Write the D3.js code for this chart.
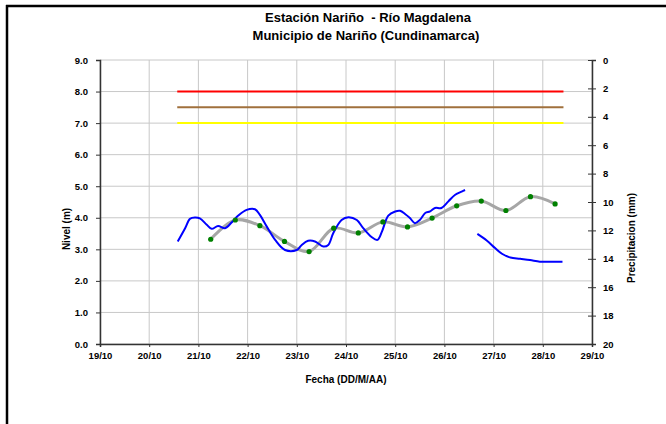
<!DOCTYPE html>
<html><head><meta charset="utf-8">
<script src="https://cdn.jsdelivr.net/npm/d3@7"></script>
<style>body{margin:0;background:#fff;} text{font-family:Arial,"Liberation Sans",sans-serif;font-weight:bold;white-space:pre;}</style>
</head><body><svg id="c" width="666" height="424"></svg>
<script>
const titleLines = ["Estación Nariño  - Río Magdalena", "Municipio de Nariño (Cundinamarca)"];
const xLabel = "Fecha (DD/M/AA)";
const yLabel = "Nivel (m)";
const y2Label = "Precipitacion (mm)";
const dayTicks = [19,20,21,22,23,24,25,26,27,28,29];
const levelTicks = [0,1,2,3,4,5,6,7,8,9];
const precipTicks = [0,2,4,6,8,10,12,14,16,18,20];
// thresholds (m)
const thresholdValues = [8.0, 7.5, 7.0];
const thresholdColors = ["#ff0000", "#a0703c", "#ffff00"];
const thresholdStart = 20.57, thresholdEnd = 28.42;
// observed level, segment 1 (day, m)
const levelDays1 = [20.58,20.73,20.83,20.93,21.03,21.17,21.27,21.40,21.54,21.68,21.81,21.98,22.15,22.25,22.39,22.56,22.76,23.00,23.10,23.23,23.37,23.54,23.64,23.74,23.91,24.05,24.22,24.35,24.52,24.64,24.73,24.86,25.00,25.10,25.20,25.30,25.40,25.50,25.61,25.71,25.81,25.94,26.08,26.22,26.35,26.42];
const levelVals1 = [3.25,3.67,3.97,4.01,3.98,3.78,3.65,3.74,3.67,3.86,4.07,4.25,4.27,4.09,3.72,3.30,2.98,2.98,3.14,3.27,3.25,3.09,3.14,3.51,3.93,4.02,3.93,3.67,3.39,3.30,3.56,4.07,4.20,4.22,4.12,3.99,3.83,3.93,4.15,4.20,4.31,4.31,4.52,4.73,4.83,4.88];
// observed level, segment 2
const levelDays2 = [26.67,26.86,27.03,27.17,27.34,27.54,27.74,27.94,28.15,28.40];
const levelVals2 = [3.49,3.28,3.04,2.86,2.74,2.70,2.66,2.61,2.61,2.61];
// smoothed series with markers
const smoothDays = [21.25,21.75,22.25,22.75,23.25,23.75,24.25,24.75,25.25,25.75,26.25,26.75,27.25,27.75,28.25];
const smoothVals = [3.32,3.93,3.75,3.25,2.93,3.67,3.52,3.87,3.71,3.99,4.38,4.53,4.23,4.67,4.44];

const svg = d3.select("#c");
const L=100, R=592, T=60, B=344;
const x = d3.scaleLinear().domain([19,29]).range([L,R]);
const y = d3.scaleLinear().domain([0,9]).range([B,T]);
const y2 = d3.scaleLinear().domain([0,20]).range([T,B]);

// frame
svg.append("line").attr("x1",7).attr("x2",7).attr("y1",5).attr("y2",424).attr("stroke","#000").attr("stroke-width",2.5);
svg.append("line").attr("x1",6).attr("x2",666).attr("y1",6).attr("y2",6).attr("stroke","#000").attr("stroke-width",2.5);

// grid
svg.append("g").selectAll("line").data(levelTicks).join("line")
  .attr("x1",L).attr("x2",R).attr("y1",d=>y(d)).attr("y2",d=>y(d)).attr("stroke","#c8c8c8").attr("stroke-width",1);
svg.append("g").selectAll("line").data(dayTicks).join("line")
  .attr("x1",d=>x(d)).attr("x2",d=>x(d)).attr("y1",T).attr("y2",B).attr("stroke","#c8c8c8").attr("stroke-width",1);

// axes
const gl = svg.append("g").attr("transform",`translate(${L},0)`)
  .call(d3.axisLeft(y).tickValues(levelTicks).tickFormat(d3.format(".1f")).tickSize(4).tickPadding(8));
const gb = svg.append("g").attr("transform",`translate(0,${B})`)
  .call(d3.axisBottom(x).tickValues(dayTicks).tickFormat(d=>d+"/10").tickSize(3).tickPadding(3));
const gr = svg.append("g").attr("transform",`translate(${R},0)`)
  .call(d3.axisRight(y2).tickValues(precipTicks).tickSize(4).tickPadding(7));
gr.selectAll(".tick line").attr("x1",-4);
[gl,gb,gr].forEach(g=>{
  g.select(".domain").attr("stroke","#333").attr("stroke-width",1.5);
  g.selectAll(".tick line").attr("stroke","#333");
  g.selectAll("text").attr("font-size",9.5).attr("font-weight","bold").attr("fill","#000")
   .attr("font-family","Arial, 'Liberation Sans', sans-serif");
});
gb.selectAll("text").attr("dy","0.9em");

// thresholds
svg.append("g").selectAll("line").data(thresholdValues).join("line")
  .attr("x1",x(thresholdStart)).attr("x2",x(thresholdEnd)).attr("y1",d=>y(d)).attr("y2",d=>y(d))
  .attr("stroke",(d,i)=>thresholdColors[i]).attr("stroke-width",2);

// smoothed gray line
const sm = smoothDays.map((d,i)=>[d,smoothVals[i]]);
svg.append("path").datum(sm).attr("fill","none").attr("stroke","#a6a6a6").attr("stroke-width",3)
  .attr("d", d3.line().x(d=>x(d[0])).y(d=>y(d[1])).curve(d3.curveCatmullRom.alpha(0.5)));

// blue level lines
const lineB = d3.line().x(d=>x(d[0])).y(d=>y(d[1])).curve(d3.curveCatmullRom.alpha(0.5));
[[levelDays1,levelVals1],[levelDays2,levelVals2]].forEach(([ds,vs])=>{
  svg.append("path").datum(ds.map((d,i)=>[d,vs[i]])).attr("fill","none").attr("stroke","#0000ff")
    .attr("stroke-width",2).attr("d",lineB);
});

// green markers
svg.append("g").selectAll("circle").data(sm).join("circle")
  .attr("cx",d=>x(d[0])).attr("cy",d=>y(d[1])).attr("r",2.6).attr("fill","#008000");

// titles
svg.append("text").attr("x",368).attr("y",22).attr("text-anchor","middle").attr("font-size",13).text(titleLines[0]);
svg.append("text").attr("x",366).attr("y",40).attr("text-anchor","middle").attr("font-size",13).text(titleLines[1]);
svg.append("text").attr("x",346).attr("y",383).attr("text-anchor","middle").attr("font-size",10).text(xLabel);
svg.append("text").attr("transform","translate(70,229) rotate(-90)").attr("text-anchor","middle").attr("font-size",10).text(yLabel);
svg.append("text").attr("transform","translate(635,238) rotate(-90)").attr("text-anchor","middle").attr("font-size",10).text(y2Label);
</script></body></html>
